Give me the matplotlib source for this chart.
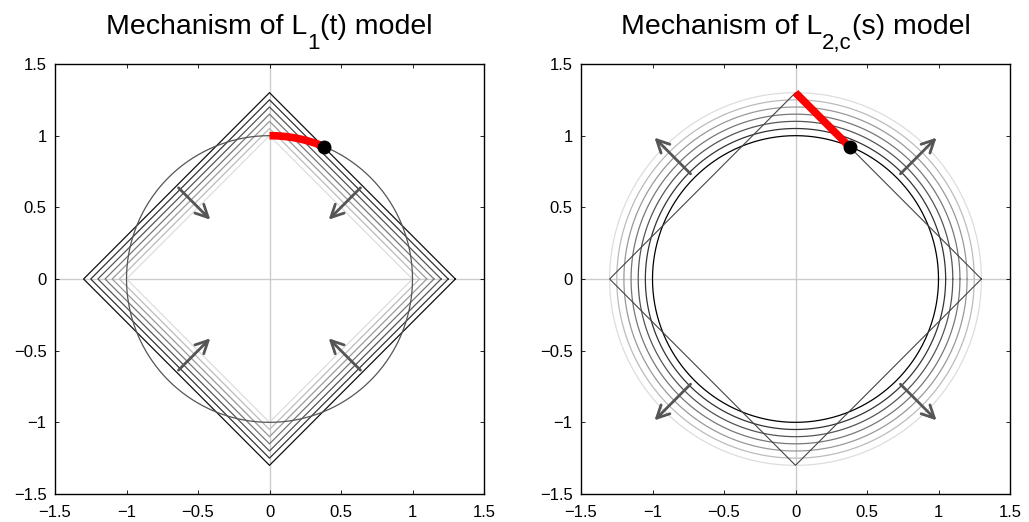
import numpy as np
import matplotlib
matplotlib.use('Agg')
import matplotlib.pyplot as plt
from matplotlib.transforms import offset_copy

plt.rcParams['font.family'] = ['Liberation Sans', 'DejaVu Sans']

# radii of the level sets (diamonds on the left, circles on the right)
radii = [1.3, 1.25, 1.2, 1.15, 1.1, 1.05, 1.0]
grays_left = ['#111111', '#333333', '#555555', '#777777', '#999999', '#bbbbbb', '#dddddd']
grays_right = ['#dddddd', '#bbbbbb', '#999999', '#777777', '#555555', '#333333', '#000000']
ticks = [-1.5, -1, -0.5, 0, 0.5, 1, 1.5]
tick_labels = ['\u22121.5', '\u22121', '\u22120.5', '0', '0.5', '1', '1.5']
# titles as (main, subscript, rest)
titles = [('Mechanism of L', '1', '(t) model'), ('Mechanism of L', '2,c', '(s) model')]

# touching point on the unit circle
theta_pt = np.deg2rad(67.5)
pt = (np.cos(theta_pt), np.sin(theta_pt))

# arrows (start, end)
arrows_left = [((-0.65, 0.65), (-0.40, 0.40)), ((0.65, 0.65), (0.40, 0.40)),
               ((-0.65, -0.65), (-0.40, -0.40)), ((0.65, -0.65), (0.40, -0.40))]
arrows_right = [((-0.72, 0.72), (-1.0, 1.0)), ((0.72, 0.72), (1.0, 1.0)),
                ((-0.72, -0.72), (-1.0, -1.0)), ((0.72, -0.72), (1.0, -1.0))]

t = np.linspace(0, 2*np.pi, 721)

def diamond(r):
    return [r, 0, -r, 0, r], [0, r, 0, -r, 0]

fig = plt.figure(figsize=(10.29, 5.22), dpi=100)
ax1 = fig.add_axes([55/1029, 28/522, 429/1029, 430/522])
ax2 = fig.add_axes([581/1029, 28/522, 429/1029, 430/522])

for ax in (ax1, ax2):
    ax.axhline(0, color='#cccccc', lw=1, zorder=0)
    ax.axvline(0, color='#cccccc', lw=1, zorder=0)

# left: shrinking diamonds + unit circle
for r, c in zip(radii, grays_left):
    xd, yd = diamond(r)
    ax1.plot(xd, yd, color=c, lw=0.9)
ax1.plot(np.cos(t), np.sin(t), color='#555555', lw=0.9)
arc = np.linspace(np.pi/2, theta_pt, 30)
ax1.plot(np.cos(arc), np.sin(arc), color='red', lw=5.5, solid_capstyle='butt')
ax1.plot(*pt, 'o', color='black', ms=9)
for s, e in arrows_left:
    ax1.annotate('', xy=e, xytext=s,
                 arrowprops=dict(arrowstyle='->,head_length=0.9,head_width=0.45', color='#555555', lw=2))

# right: growing circles + diamond
for r, c in zip(radii, grays_right):
    ax2.plot(r*np.cos(t), r*np.sin(t), color=c, lw=0.9)
xd, yd = diamond(1.3)
ax2.plot(xd, yd, color='#444444', lw=0.8)
ax2.plot([0, pt[0]], [1.3, 1.3 - pt[0]], color='red', lw=5.5, solid_capstyle='butt')
ax2.plot(*pt, 'o', color='black', ms=9)
for s, e in arrows_right:
    ax2.annotate('', xy=e, xytext=s,
                 arrowprops=dict(arrowstyle='->,head_length=0.9,head_width=0.45', color='#555555', lw=2))

renderer = fig.canvas.get_renderer()

def put_title(ax, parts, size=20.5, sub_size=16, drop=15):
    # main text, lowered subscript, then the rest, centred over the axes (drop in px)
    pieces = [(parts[0], size, 0), (parts[1], sub_size, -drop), (parts[2], size, 0)]
    txts = []
    for s, fs, dy in pieces:
        txts.append(ax.text(0.5, 1 + 30/430, s, transform=ax.transAxes, fontsize=fs,
                            ha='left', va='baseline'))
    widths = [tx.get_window_extent(renderer).width for tx in txts]
    x = -sum(widths) / 2
    for tx, w, (s, fs, dy) in zip(txts, widths, pieces):
        tx.set_transform(offset_copy(ax.transAxes, fig=fig, x=x, y=dy, units='dots'))
        x += w

for ax, ttl in zip((ax1, ax2), titles):
    ax.set_xlim(-1.5, 1.5)
    ax.set_ylim(-1.5, 1.5)
    ax.set_xticks(ticks)
    ax.set_yticks(ticks)
    ax.set_xticklabels(tick_labels, fontsize=12)
    ax.set_yticklabels(tick_labels, fontsize=12)
    ax.tick_params(direction='in', top=True, right=True, length=3, width=0.6)
    ax.tick_params(axis='x', pad=8)
    ax.tick_params(axis='y', pad=6)
    for sp in ax.spines.values():
        sp.set_linewidth(1.0)
    put_title(ax, ttl)

fig.savefig('out.png', dpi=100)
